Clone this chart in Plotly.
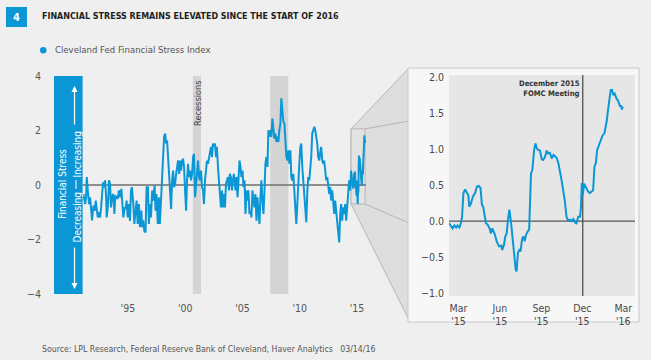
import plotly.graph_objects as go
import pandas as pd

W, H = 651, 360
BG = "#efefef"
BLUE = "#0b97d6"
FONT = "'DejaVu Sans Condensed', 'Liberation Sans Narrow', sans-serif"

# ---------------- data ----------------
main_years = [
    1991.62, 1991.77, 1991.85, 1991.91, 1992.00, 1992.11, 1992.20, 1992.29, 1992.37, 1992.49,
    1992.61, 1992.69, 1992.78, 1992.87, 1992.98, 1993.07, 1993.16, 1993.24, 1993.33, 1993.42,
    1993.51, 1993.60, 1993.65, 1993.77, 1993.85, 1993.94, 1994.03, 1994.11, 1994.23, 1994.32,
    1994.40, 1994.52, 1994.61, 1994.72, 1994.81, 1994.93, 1995.01, 1995.10, 1995.22, 1995.30,
    1995.39, 1995.48, 1995.59, 1995.68, 1995.77, 1995.85, 1995.97, 1996.06, 1996.17, 1996.26,
    1996.35, 1996.46, 1996.55, 1996.67, 1996.75, 1996.84, 1996.93, 1997.04, 1997.13, 1997.25,
    1997.33, 1997.42, 1997.51, 1997.62, 1997.71, 1997.83, 1997.91, 1997.99, 1998.11, 1998.20,
    1998.29, 1998.34, 1998.43, 1998.52, 1998.60, 1998.66, 1998.75, 1998.84, 1998.92, 1999.01,
    1999.10, 1999.18, 1999.27, 1999.36, 1999.45, 1999.53, 1999.62, 1999.71, 1999.79, 1999.88,
    1999.97, 2000.05, 2000.14, 2000.23, 2000.32, 2000.40, 2000.49, 2000.58, 2000.66, 2000.75,
    2000.84, 2000.92, 2001.01, 2001.10, 2001.19, 2001.27, 2001.36, 2001.45, 2001.53, 2001.62,
    2001.71, 2001.79, 2001.88, 2001.97, 2002.06, 2002.14, 2002.23, 2002.32, 2002.40, 2002.49,
    2002.58, 2002.66, 2002.75, 2002.84, 2002.92, 2003.01, 2003.10, 2003.19, 2003.27, 2003.36,
    2003.45, 2003.53, 2003.62, 2003.71, 2003.80, 2003.88, 2003.97, 2004.06, 2004.14, 2004.23,
    2004.32, 2004.40, 2004.49, 2004.58, 2004.66, 2004.75, 2004.81, 2004.89, 2004.98, 2005.07,
    2005.15, 2005.24, 2005.33, 2005.41, 2005.50, 2005.59, 2005.68, 2005.76, 2005.85, 2005.94,
    2006.02, 2006.11, 2006.20, 2006.28, 2006.37, 2006.46, 2006.54, 2006.63, 2006.72, 2006.81,
    2006.89, 2006.98, 2007.07, 2007.15, 2007.24, 2007.33, 2007.42, 2007.50, 2007.59, 2007.68,
    2007.76, 2007.85, 2007.94, 2008.02, 2008.11, 2008.20, 2008.28, 2008.37, 2008.46, 2008.55,
    2008.63, 2008.72, 2008.81, 2008.89, 2008.98, 2009.07, 2009.16, 2009.24, 2009.33, 2009.42,
    2009.50, 2009.59, 2009.68, 2009.76, 2009.85, 2009.94, 2010.03, 2010.11, 2010.20, 2010.29,
    2010.37, 2010.46, 2010.55, 2010.63, 2010.72, 2010.81, 2010.90, 2010.98, 2011.07, 2011.16,
    2011.24, 2011.33, 2011.42, 2011.50, 2011.59, 2011.68, 2011.77, 2011.85, 2011.94, 2012.03,
    2012.11, 2012.20, 2012.29, 2012.37, 2012.46, 2012.55, 2012.63, 2012.72, 2012.81, 2012.90,
    2012.98, 2013.07, 2013.16, 2013.24, 2013.33, 2013.42, 2013.51, 2013.59, 2013.68, 2013.77,
    2013.85, 2013.94, 2014.03, 2014.11, 2014.20, 2014.29, 2014.38, 2014.46, 2014.55, 2014.64,
    2014.72, 2014.81, 2014.90, 2014.98, 2015.07,
]
main_values = [
    -0.33, -0.70, -0.45, 0.29, -0.20, -0.70, -0.45, -0.82, -1.30, -0.76,
    -0.94, -0.57, -1.00, -1.19, -1.00, -1.19, -0.82, -0.39, 0.10, -0.08,
    0.17, -0.45, -1.19, -0.70, 0.17, 0.04, -0.82, -0.45, -0.33, -1.06,
    -0.39, -0.45, -0.51, -0.20, -0.45, -0.14, -0.88, -1.19, -0.82, -0.88,
    -0.57, -1.19, -0.70, -1.32, -0.20, -0.08, -0.70, -1.43, -0.94, -0.57,
    -1.43, -0.70, -1.55, -0.94, -1.55, -1.30, -1.68, -1.74, -0.08, -0.08,
    -1.43, -0.70, -1.19, -0.20, -0.57, -0.02, -0.94, -0.33, -1.43, -0.45,
    -1.43, -1.06, -0.08, 0.41, 1.16, 1.78, 1.89, 1.52, 1.64, 0.90,
    0.66, -0.20, -0.88, 0.17, 0.53, -0.08, 0.04, 0.41, 0.78, 0.90,
    0.41, 0.90, 0.53, 0.90, 0.96, 0.65, -0.20, -0.94, 0.17, 0.78,
    0.29, 0.53, 0.17, 0.41, 1.02, 1.15, -0.45, 0.17, 0.29, 0.90,
    0.29, 0.17, 0.53, -0.08, -0.20, -0.70, 0.17, 0.66, 0.90, 0.78,
    1.02, 1.27, 1.40, 1.02, 1.52, 1.40, 1.52, 1.02, 1.40, 0.66,
    0.04, -0.45, -0.82, -0.20, -0.82, -0.33, -0.82, 0.04, 0.17, 0.29,
    -0.20, 0.41, 0.29, -0.20, 0.17, 0.41, 0.17, -0.20, 0.29, -0.45,
    0.17, 0.90, 0.66, 0.29, 0.53, -0.08, 0.17, -1.06, -0.20, -0.57,
    -0.20, -1.06, -0.94, -1.19, -0.20, -0.57, -0.82, -0.33, -1.31, -0.45,
    -0.82, -1.43, -0.45, 0.17, -0.57, -1.06, -0.20, 0.78, 1.03, 0.66,
    2.01, 1.77, 2.01, 1.77, 2.44, 2.01, 1.70, 1.89, 1.58, 1.77,
    1.58, 2.01, 2.26, 3.18, 2.75, 2.32, 2.26, 1.52, 1.03, 0.90,
    1.27, 0.78, 1.27, 0.29, 0.17, 0.41, -0.08, -0.82, -1.43, -0.45,
    0.41, 0.78, 1.40, 1.52, 0.66, 0.17, -0.45, -1.06, -1.37, -0.20,
    0.29, 0.17, 0.66, 1.03, 1.89, 2.07, 2.14, 2.01, 1.77, 1.52,
    1.03, 0.90, 1.21, 1.40, 0.90, 0.78, 0.90, 0.41, 0.17, 0.29,
    0.04, -0.33, -0.08, -0.57, -0.20, -0.82, -1.06, -0.57, -0.94, -1.19,
    -1.56, -2.11, -1.06, -0.70, -1.31, -0.82, -1.06, -0.70, -1.31, -0.82,
    -0.20, 0.17, -0.20, 0.53, 0.17,
]

inset_dates = [
    "2015-02-22", "2015-02-26", "2015-03-02", "2015-03-06", "2015-03-10", "2015-03-13",
    "2015-03-17", "2015-03-20", "2015-03-23", "2015-03-26", "2015-03-30", "2015-04-02",
    "2015-04-06", "2015-04-08", "2015-04-12", "2015-04-16", "2015-04-21", "2015-04-25",
    "2015-04-29", "2015-05-03", "2015-05-06", "2015-05-09", "2015-05-12", "2015-05-15",
    "2015-05-19", "2015-05-23", "2015-05-26", "2015-05-29", "2015-06-03", "2015-06-08",
    "2015-06-13", "2015-06-18", "2015-06-20", "2015-06-24", "2015-06-27", "2015-06-30",
    "2015-07-03", "2015-07-06", "2015-07-10", "2015-07-13", "2015-07-17", "2015-07-20",
    "2015-07-22", "2015-07-25", "2015-07-28", "2015-07-31", "2015-08-03", "2015-08-06",
    "2015-08-09", "2015-08-12", "2015-08-16", "2015-08-19", "2015-08-23", "2015-08-26",
    "2015-08-30", "2015-09-02", "2015-09-05", "2015-09-08", "2015-09-12", "2015-09-16",
    "2015-09-19", "2015-09-23", "2015-09-27", "2015-09-30", "2015-10-04", "2015-10-08",
    "2015-10-12", "2015-10-15", "2015-10-19", "2015-10-23", "2015-10-26", "2015-10-30",
    "2015-11-03", "2015-11-06", "2015-11-10", "2015-11-13", "2015-11-18", "2015-11-21",
    "2015-11-25", "2015-11-29", "2015-12-02", "2015-12-06", "2015-12-10", "2015-12-12",
    "2015-12-14", "2015-12-16", "2015-12-19", "2015-12-23", "2015-12-28", "2016-01-01",
    "2016-01-06", "2016-01-08", "2016-01-11", "2016-01-14", "2016-01-17", "2016-01-21",
    "2016-01-25", "2016-01-29", "2016-02-02", "2016-02-05", "2016-02-07", "2016-02-10",
    "2016-02-13", "2016-02-16", "2016-02-19", "2016-02-22", "2016-02-25", "2016-02-29",
    "2016-03-03", "2016-03-06", "2016-03-08", "2016-03-10", "2016-03-12", "2016-03-14",
]
inset_values = [
    -0.03, -0.06, -0.10, -0.06, -0.09, -0.06,
    -0.09, -0.04, 0.06, 0.39, 0.44, 0.40,
    0.36, 0.20, 0.25, 0.34, 0.39, 0.48,
    0.49, 0.46, 0.23, 0.20, 0.11, -0.03,
    -0.05, -0.10, -0.17, -0.10, -0.17, -0.28,
    -0.35, -0.34, -0.40, -0.33, -0.21, -0.17,
    0.02, 0.16, -0.03, -0.26, -0.53, -0.67,
    -0.70, -0.44, -0.40, -0.42, -0.26, -0.21,
    -0.28, -0.19, -0.14, -0.12, 0.66, 0.71,
    0.99, 1.08, 1.01, 0.99, 0.98, 0.86,
    0.85, 0.89, 0.98, 0.94, 0.95, 0.87,
    0.92, 0.90, 0.88, 0.80, 0.71, 0.57,
    0.41, 0.29, 0.06, 0.01, 0.02, 0.00,
    0.03, -0.02, -0.03, 0.06, 0.06, 0.20,
    0.53, 0.36, 0.52, 0.46, 0.41, 0.39,
    0.41, 0.43, 0.76, 0.80, 0.99, 1.06,
    1.15, 1.19, 1.22, 1.31, 1.38, 1.54,
    1.72, 1.82, 1.82, 1.75, 1.77, 1.70,
    1.68, 1.64, 1.59, 1.61, 1.55, 1.59,
]

recessions = [(2001.17, 2001.88), (2007.92, 2009.50)]
main_tickvals = [1995.5, 2000.5, 2005.5, 2010.5, 2015.5]
main_ticktext = ["'95", "'00", "'05", "'10", "'15"]
main_yticks = [-4, -2, 0, 2, 4]
inset_tickvals = ["2015-03-15", "2015-06-15", "2015-09-15", "2015-12-15", "2016-03-15"]
inset_ticktext = ["Mar<br>'15", "Jun<br>'15", "Sep<br>'15", "Dec<br>'15", "Mar<br>'16"]
inset_yticks = [-1.0, -0.5, 0.0, 0.5, 1.0, 1.5, 2.0]
fomc_date = "2015-12-16"
zoom_window = (2014.98, 2016.20, -0.70, 2.06)  # x0, x1, y0, y1 of the zoomed region

# inset dates as decimal years for the long-run series tail
_d = pd.to_datetime(pd.Series(inset_dates))
inset_decimal = (_d.dt.year + (_d.dt.dayofyear - 1) / 365.25).tolist()
full_x = main_years + inset_decimal
full_y = main_values + inset_values

# ---------------- layout geometry ----------------
def px(x):
    return x / W

def py(y):
    return 1 - y / H

XR = (1989.05, 2016.28)
YR = (-4, 4)
XD = (px(54), px(366))
YD = (py(294), py(76))
X2D = (px(449), px(635))
Y2D = (py(296), py(75))
Y2R = (-1.04, 2.03)

def mx(v):
    return XD[0] + (v - XR[0]) / (XR[1] - XR[0]) * (XD[1] - XD[0])

def my(v):
    return YD[0] + (v - YR[0]) / (YR[1] - YR[0]) * (YD[1] - YD[0])

fig = go.Figure()
fig.add_trace(go.Scatter(x=full_x, y=full_y, mode="lines",
                         line=dict(color=BLUE, width=2), xaxis="x", yaxis="y",
                         showlegend=False, hoverinfo="skip"))
fig.add_trace(go.Scatter(x=inset_dates, y=inset_values, mode="lines",
                         line=dict(color=BLUE, width=2), xaxis="x2", yaxis="y2",
                         showlegend=False, hoverinfo="skip"))

shapes = []
# zoom connector (paper)
zx0, zx1, zy0, zy1 = zoom_window
bx0, bx1, by0, by1 = mx(zx0), mx(zx1), my(zy0), my(zy1)
pl = px(409)
shapes.append(dict(type="path", xref="paper", yref="paper", layer="below",
                   path=f"M {bx0},{by1} L {pl},{py(68)} L {pl},{py(320)} L {bx0},{by0} Z",
                   fillcolor="#dedede", line=dict(color="#b5b5b5", width=1)))
shapes.append(dict(type="line", xref="paper", yref="paper", layer="below",
                   x0=bx1, y0=by1, x1=pl, y1=py(121), line=dict(color="#b5b5b5", width=1)))
shapes.append(dict(type="line", xref="paper", yref="paper", layer="below",
                   x0=bx1, y0=by0, x1=pl, y1=py(223), line=dict(color="#b5b5b5", width=1)))
# inset panel
shapes.append(dict(type="rect", xref="paper", yref="paper", layer="below",
                   x0=px(408), x1=px(639), y0=py(322), y1=py(68),
                   fillcolor="#f7f7f7", line=dict(color="#c8c8c8", width=1)))
# badge
shapes.append(dict(type="rect", xref="paper", yref="paper", layer="below",
                   x0=px(6), x1=px(27), y0=py(27), y1=py(7),
                   fillcolor=BLUE, line=dict(width=0)))
# legend dot
shapes.append(dict(type="circle", xref="paper", yref="paper", layer="above",
                   x0=px(40), x1=px(46.5), y0=py(53.5), y1=py(47),
                   fillcolor=BLUE, line=dict(width=0)))
# main: blue label box
shapes.append(dict(type="rect", xref="x", yref="y domain", layer="below",
                   x0=XR[0], x1=main_years[0] - 0.07, y0=0, y1=1,
                   fillcolor=BLUE, line=dict(width=0)))
# recession bars
for r0, r1 in recessions:
    shapes.append(dict(type="rect", xref="x", yref="y domain", layer="below",
                       x0=r0, x1=r1, y0=0, y1=1, fillcolor="#d4d4d4", line=dict(width=0)))
# zoom box on main
shapes.append(dict(type="rect", xref="x", yref="y", layer="below",
                   x0=zx0, x1=zx1, y0=zy0, y1=zy1,
                   fillcolor="#e3e3e3", line=dict(color="#b5b5b5", width=1)))
# main zero line
shapes.append(dict(type="line", xref="x", yref="y", layer="below",
                   x0=main_years[0] - 0.07, x1=XR[1], y0=0, y1=0,
                   line=dict(color="#6e6e6e", width=1.5)))
# divider in blue box
shapes.append(dict(type="line", xref="paper", yref="paper", layer="above",
                   x0=px(76), x1=px(76), y0=py(180), y1=py(189),
                   line=dict(color="white", width=1)))
# inset background, zero line, FOMC line
shapes.append(dict(type="rect", xref="x2 domain", yref="y2 domain", layer="below",
                   x0=0, x1=1, y0=0, y1=1, fillcolor="#e6e6e6", line=dict(width=0)))
shapes.append(dict(type="line", xref="x2 domain", yref="y2", layer="below",
                   x0=0, x1=1, y0=0, y1=0, line=dict(color="#555555", width=1.2)))
shapes.append(dict(type="line", xref="x2", yref="y2 domain", layer="below",
                   x0=fomc_date, x1=fomc_date, y0=0, y1=1, line=dict(color="#444444", width=1.2)))

ann = []
def txt(text, x, y, size, color, xanchor="center", yanchor="middle", angle=0, **kw):
    ann.append(dict(text=text, x=x, y=y, xref=kw.pop("xref", "paper"), yref=kw.pop("yref", "paper"),
                    xanchor=xanchor, yanchor=yanchor, textangle=angle, showarrow=False,
                    font=dict(family=FONT, size=size, color=color), **kw))

txt("<b>4</b>", px(16.5), py(17), 11, "white")
txt("<b>FINANCIAL STRESS REMAINS ELEVATED SINCE THE START OF 2016</b>", px(40), py(16.5),
    8.9, "#1e1e1e", xanchor="left")
txt("Cleveland Fed Financial Stress Index", px(53), py(50), 9.5, "#555555", xanchor="left")
txt("Source: LPL Research, Federal Reserve Bank of Cleveland, Haver Analytics   03/14/16",
    px(40), py(349), 8.7, "#555555", xanchor="left")
txt("Recessions", sum(recessions[0]) / 2, 1, 9.2, "#444444", yanchor="top", angle=-90,
    xref="x", yref="y domain", yshift=-2)
txt("Financial Stress", px(62), py(184), 10, "white", angle=-90)
txt("Increasing", px(76.5), py(155), 10, "white", angle=-90)
txt("Decreasing", px(76.5), py(217), 10, "white", angle=-90)
txt("<b>December 2015<br>FOMC Meeting</b>", fomc_date, 1, 7.6, "#333333",
    xanchor="right", yanchor="top", xref="x2", yref="y2 domain", xshift=-1, yshift=-2,
    align="right")
ann.append(dict(text="", x=px(74.5), y=py(86), xref="paper", yref="paper", showarrow=True,
                ax=0, ay=40, arrowhead=2, arrowsize=1, arrowwidth=1.2, arrowcolor="white"))
ann.append(dict(text="", x=px(74.5), y=py(289), xref="paper", yref="paper", showarrow=True,
                ax=0, ay=-43, arrowhead=2, arrowsize=1, arrowwidth=1.2, arrowcolor="white"))

tickfont = dict(family=FONT, size=10.5, color="#555555")
tickfont2 = dict(family=FONT, size=10.5, color="#4a4a4a")
fig.update_layout(
    width=W, height=H, autosize=False,
    margin=dict(l=0, r=0, t=0, b=0, pad=0, autoexpand=False),
    paper_bgcolor=BG, plot_bgcolor="rgba(0,0,0,0)",
    showlegend=False, hovermode=False,
    shapes=shapes, annotations=ann,
    xaxis=dict(domain=list(XD), range=list(XR), tickvals=main_tickvals, ticktext=main_ticktext,
               showgrid=False, zeroline=False, showline=False, ticks="", tickfont=tickfont,
               ticklabelstandoff=6, anchor="y", automargin=False),
    yaxis=dict(domain=list(YD), range=list(YR), tickvals=main_yticks,
               showgrid=False, zeroline=False, showline=False, ticks="", tickfont=tickfont,
               ticklabelstandoff=12, anchor="x", automargin=False),
    xaxis2=dict(domain=list(X2D), type="date", range=["2015-02-22", "2016-04-10"],
                tickvals=inset_tickvals, ticktext=inset_ticktext,
                showgrid=False, zeroline=False, showline=False, ticks="", tickfont=tickfont2,
                ticklabelstandoff=4, anchor="y2", automargin=False),
    yaxis2=dict(domain=list(Y2D), range=list(Y2R), tickvals=inset_yticks, tickformat=".1f",
                showgrid=False, zeroline=False, showline=False, ticks="", tickfont=tickfont2,
                ticklabelstandoff=4, anchor="x2", automargin=False),
)

fig.write_html("out.html",
               config={"displayModeBar": False, "staticPlot": True},
               post_script="document.body.style.margin='0';document.body.style.padding='0';"
                           "document.documentElement.style.overflow='hidden';")
